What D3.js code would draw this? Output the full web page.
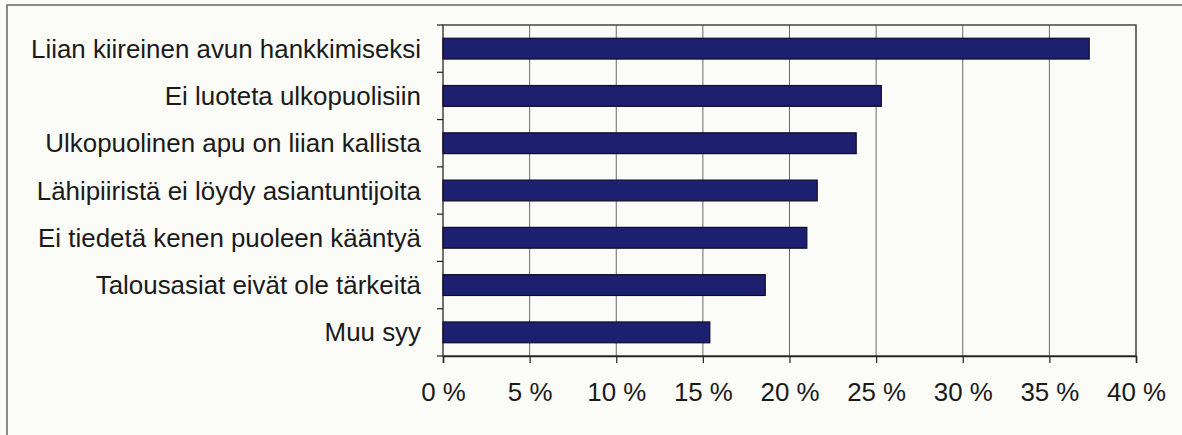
<!DOCTYPE html>
<html>
<head>
<meta charset="utf-8">
<script src="https://cdn.jsdelivr.net/npm/d3@7"></script>
<style>
  html, body { margin: 0; padding: 0; background: #fbfbf7; }
  svg { display: block; }
  text { font-family: "Liberation Sans", Arial, sans-serif; fill: #1a1a1a; }
</style>
</head>
<body>
<svg id="chart" width="1182" height="435"></svg>
<script>
// Reasons for not seeking help with financial matters (share of respondents)
const categories = [
  "Liian kiireinen avun hankkimiseksi",
  "Ei luoteta ulkopuolisiin",
  "Ulkopuolinen apu on liian kallista",
  "Lähipiiristä ei löydy asiantuntijoita",
  "Ei tiedetä kenen puoleen kääntyä",
  "Talousasiat eivät ole tärkeitä",
  "Muu syy"
];
const values = [37.3, 25.3, 23.85, 21.6, 21.0, 18.6, 15.4];
const tickValues = [0, 5, 10, 15, 20, 25, 30, 35, 40];
const tickLabels = ["0 %", "5 %", "10 %", "15 %", "20 %", "25 %", "30 %", "35 %", "40 %"];

const svg = d3.select("#chart");
const plot = { left: 443, right: 1136, top: 25, bottom: 356 };
const fontSize = "25.9px";

// Outer frame (only top and left edges fall inside the view)
svg.append("rect")
  .attr("x", 7).attr("y", 5).attr("width", 1300).attr("height", 600)
  .attr("fill", "none").attr("stroke", "#666").attr("stroke-width", 1.5);

const x = d3.scaleLinear().domain([0, 40]).range([plot.left, plot.right]);
const y = d3.scaleBand().domain(categories).range([plot.top, plot.bottom]).paddingInner(0.56).paddingOuter(0.28);

// Vertical gridlines
svg.append("g").selectAll("line")
  .data(tickValues.filter(v => v > 0 && v < 40))
  .join("line")
  .attr("x1", d => x(d)).attr("x2", d => x(d))
  .attr("y1", plot.top).attr("y2", plot.bottom)
  .attr("stroke", "#6a6a6a").attr("stroke-width", 1);

// Plot area border
svg.append("rect")
  .attr("x", plot.left).attr("y", plot.top)
  .attr("width", plot.right - plot.left).attr("height", plot.bottom - plot.top)
  .attr("fill", "none").attr("stroke", "#444").attr("stroke-width", 1.5);

// Bars
svg.append("g").selectAll("rect")
  .data(values)
  .join("rect")
  .attr("x", x(0))
  .attr("y", (d, i) => y(categories[i]))
  .attr("width", d => x(d) - x(0))
  .attr("height", y.bandwidth())
  .attr("fill", "#1d206f")
  .attr("stroke", "#0d0d2a").attr("stroke-width", 1.2);

// X axis
const xAxis = d3.axisBottom(x)
  .tickValues(tickValues)
  .tickFormat((d, i) => tickLabels[i])
  .tickSize(7).tickPadding(20);
const gx = svg.append("g").attr("transform", `translate(0,${plot.bottom})`).call(xAxis);
gx.select(".domain").attr("stroke", "#222").attr("stroke-width", 1.5);
gx.selectAll(".tick line").attr("stroke", "#222").attr("stroke-width", 1.2);
gx.selectAll(".tick text").style("font-size", fontSize).attr("fill", "#1a1a1a");

// Y axis: ticks at category boundaries
const step = (plot.bottom - plot.top) / categories.length;
const bounds = d3.range(categories.length + 1).map(i => plot.top + i * step);
svg.append("g").selectAll("line")
  .data(bounds)
  .join("line")
  .attr("x1", plot.left - 6).attr("x2", plot.left)
  .attr("y1", d => d).attr("y2", d => d)
  .attr("stroke", "#222").attr("stroke-width", 1.2);

svg.append("g").selectAll("text")
  .data(categories)
  .join("text")
  .attr("x", 421)
  .attr("y", d => y(d) + y.bandwidth() / 2)
  .attr("dy", "0.35em")
  .attr("text-anchor", "end")
  .style("font-size", fontSize)
  .text(d => d);
</script>
</body>
</html>
